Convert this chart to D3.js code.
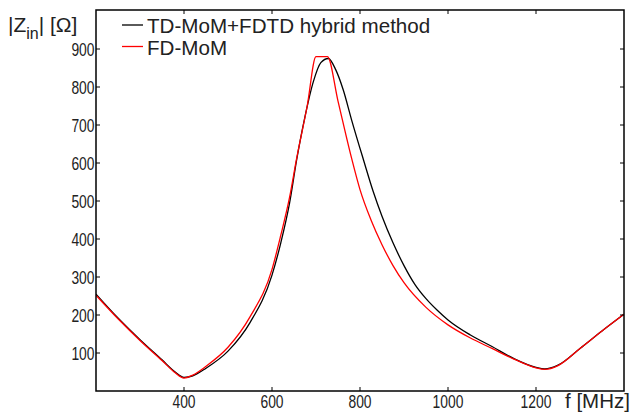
<!DOCTYPE html>
<html><head><meta charset="utf-8">
<script src="https://cdn.jsdelivr.net/npm/d3@7/dist/d3.min.js"></script>
<style>
body{margin:0;background:#fff;}
text{font-family:"Liberation Sans",Arial,sans-serif;fill:#222;}
</style></head>
<body><svg id="c" width="633" height="416"></svg>
<script>
// Data
const freqBlack = [200,250,300,350,380,400,420,450,500,550,600,620,640,656,675,694,711,728,745,762,781,808,830,850,875,900,925,950,975,1000,1050,1100,1150,1200,1220,1250,1300,1350,1400];
const zBlack    = [255,192,135,82,50,36,40,60,105,180,305,390,495,608,722,814,864,875,845,792,713,608,525,460,390,330,280,243,213,187,148,117,85,62,58,68,112,158,202];
const freqRed = [200,250,300,350,380,400,420,450,500,550,600,620,640,656,680,700,726,750,781,800,825,850,875,900,950,1000,1050,1100,1150,1200,1220,1250,1300,1350,1400];
const zRed    = [252,190,133,80,48,34,42,65,115,195,320,410,510,612,750,880,880,763,612,530,450,385,330,285,220,174,140,112,84,61,57,67,112,158,202];
const xTicks = [400,600,800,1000,1200];
const yTicks = [100,200,300,400,500,600,700,800,900];
const seriesNames = ["TD-MoM+FDTD hybrid method","FD-MoM"];
const seriesColors = ["#000000","#ff0000"];

const svg = d3.select("#c");
const L=96, R=624, T=10, B=391;
const x = d3.scaleLinear().domain([200,1400]).range([L,R]);
const y = d3.scaleLinear().domain([0,1000]).range([B,B-380]);

svg.append("clipPath").attr("id","clip").append("rect")
  .attr("x",L).attr("y",T).attr("width",R-L).attr("height",B-T);

const line = d3.line().x(d=>x(d[0])).y(d=>y(d[1])).curve(d3.curveMonotoneX);
const series = [d3.zip(freqBlack,zBlack), d3.zip(freqRed,zRed)];
const g = svg.append("g").attr("clip-path","url(#clip)");
series.forEach((s,i)=>{
  g.append("path").attr("d",line(s)).attr("fill","none")
   .attr("stroke",seriesColors[i]).attr("stroke-width",1.3).attr("stroke-linejoin","round");
});

// ticks inward on all four sides
const tk = 4;
const ticks = svg.append("g").attr("stroke","#000").attr("stroke-width",1);
xTicks.forEach(v=>{
  ticks.append("line").attr("x1",x(v)).attr("x2",x(v)).attr("y1",B).attr("y2",B-tk);
  ticks.append("line").attr("x1",x(v)).attr("x2",x(v)).attr("y1",T).attr("y2",T+tk);
});
yTicks.forEach(v=>{
  ticks.append("line").attr("x1",L).attr("x2",L+tk).attr("y1",y(v)).attr("y2",y(v));
  ticks.append("line").attr("x1",R).attr("x2",R-tk).attr("y1",y(v)).attr("y2",y(v));
});
svg.append("rect").attr("x",L).attr("y",T).attr("width",R-L).attr("height",B-T)
  .attr("fill","none").attr("stroke","#000").attr("stroke-width",1.5);

// tick labels (condensed)
const digitW = 7.7;
yTicks.forEach(v=>{
  const s=String(v);
  svg.append("text").attr("x",94.5).attr("y",y(v)+6.5).attr("text-anchor","end")
    .attr("font-size",19).attr("textLength",s.length*digitW).attr("lengthAdjust","spacingAndGlyphs").text(s);
});
xTicks.forEach(v=>{
  const s=String(v);
  svg.append("text").attr("x",x(v)).attr("y",408).attr("text-anchor","middle")
    .attr("font-size",19).attr("textLength",s.length*digitW).attr("lengthAdjust","spacingAndGlyphs").text(s);
});

// axis titles
svg.append("text").attr("x",565).attr("y",408).attr("font-size",20.5).text("f [MHz]");
const yt = svg.append("text").attr("x",8).attr("y",31.5).attr("font-size",21);
yt.append("tspan").text("|Z");
yt.append("tspan").attr("font-size",16).attr("dy",7.5).text("in");
yt.append("tspan").attr("dy",-7.5).text("| [Ω]");

// legend
seriesNames.forEach((n,i)=>{
  const yy = 25 + i*21.5;
  svg.append("line").attr("x1",122).attr("x2",143).attr("y1",yy).attr("y2",yy)
    .attr("stroke",seriesColors[i]).attr("stroke-width",1.3);
  svg.append("text").attr("x",147).attr("y",yy+8).attr("font-size",20.6).text(n);
});
</script></body></html>
